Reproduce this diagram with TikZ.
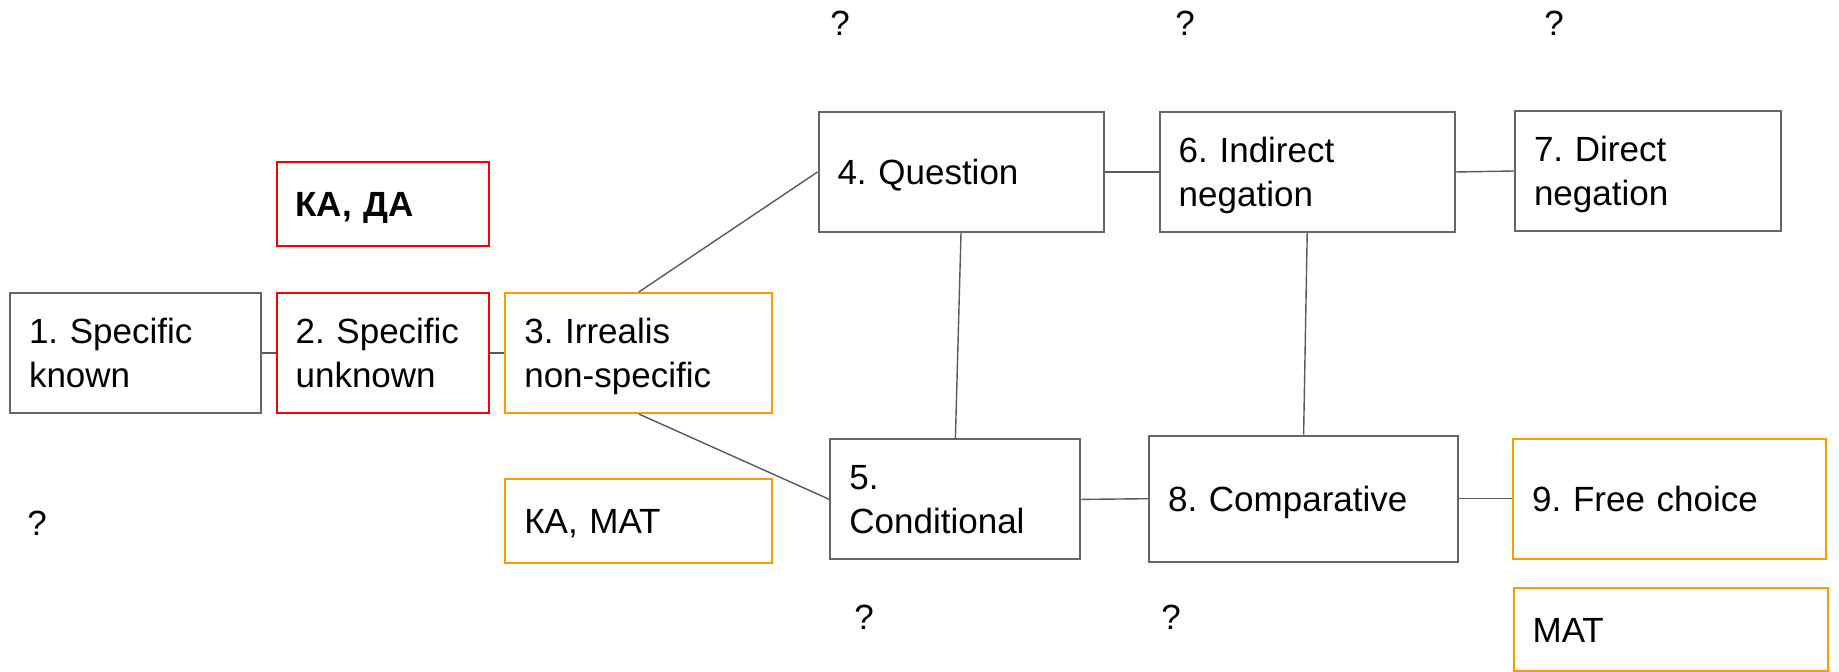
\documentclass[tikz,border=0pt]{standalone}
\usepackage{fontspec}
\setmainfont{Liberation Sans}
\usepackage{xcolor}
\usepackage{tikz}
\definecolor{boxgray}{HTML}{666666}
\definecolor{linegray}{HTML}{595959}
\definecolor{redline}{HTML}{FF0000}
\definecolor{orangeline}{HTML}{FF9900}
\frenchspacing

\begin{document}
\begin{tikzpicture}
		[x = 0.5pt, y = -0.5pt,
		 box/.style = {draw = boxgray, line width = 1pt, inner xsep = 9.5pt, inner ysep = 0pt,
		 	align = left, text height = 12.5pt, text depth = 0pt, font = \fontsize{17.5}{22}\selectfont},
		 twoline/.style = {text depth = 22pt},
		 redbox/.style = {box, draw = redline},
		 orangebox/.style = {box, draw = orangeline},
		 link/.style = {draw = linegray, line width = 0.7pt},
		 qmark/.style = {inner sep = 0pt, font = \fontsize{17.5}{22}\selectfont}]
			\useasboundingbox (0,0) rectangle (1839,672);
			\node [box, twoline, text width = 106.5pt, minimum height = 60pt] (sk) at (135.5,353) {1. Specific\\known};
			\node [redbox, twoline, text width = 87pt, minimum height = 60pt] (su) at (382.6,353) {2. Specific\\unknown};
			\node [redbox, text width = 87pt, minimum height = 42pt] (kada) at (382.6,204) {\textbf{КА, ДА}};
			\node [orangebox, twoline, text width = 114.5pt, minimum height = 60pt] (irr) at (638.8,353) {3. Irrealis\\non-specific};
			\node [orangebox, text width = 114.5pt, minimum height = 42pt] (kamat) at (638.8,521) {КА, МАТ};
			\node [box, text width = 123.5pt, minimum height = 60pt] (qu) at (961,172) {4. Question};
			\node [box, twoline, text width = 106pt, minimum height = 60pt] (cond) at (955.4,499.4) {5.\\Conditional};
			\node [box, twoline, text width = 128.5pt, minimum height = 60pt] (ind) at (1307.2,172) {6. Indirect\\negation};
			\node [box, twoline, text width = 114pt, minimum height = 60pt] (dir) at (1648,171) {7. Direct\\negation};
			\node [box, text width = 135.5pt, minimum height = 63pt] (comp) at (1303.6,498.7) {8. Comparative};
			\node [orangebox, text width = 137.5pt, minimum height = 60pt] (fc) at (1669.7,498.7) {9. Free choice};
			\node [orangebox, text width = 138pt, minimum height = 41.5pt] (mat) at (1670.6,629.5) {МАТ};
			\draw [link] (sk.east) -- (su.west);
			\draw [link] (su.east) -- (irr.west);
			\draw [link] (irr.north) -- (qu.west);
			\draw [link] (irr.south) -- (cond.west);
			\draw [link] (qu.east) -- (ind.west);
			\draw [link] (ind.east) -- (dir.west);
			\draw [link] (qu.south) -- (cond.north);
			\draw [link] (ind.south) -- (comp.north);
			\draw [link] (cond.east) -- (comp.west);
			\draw [link] (comp.east) -- (fc.west);
			\node [qmark] (q1) at (840,23.6) {?};
			\node [qmark] (q2) at (1185,23.6) {?};
			\node [qmark] (q3) at (1554,23.6) {?};
			\node [qmark] (q4) at (37.2,523) {?};
			\node [qmark] (q5) at (864,617) {?};
			\node [qmark] (q6) at (1171,617) {?};
\end{tikzpicture}
\end{document}
